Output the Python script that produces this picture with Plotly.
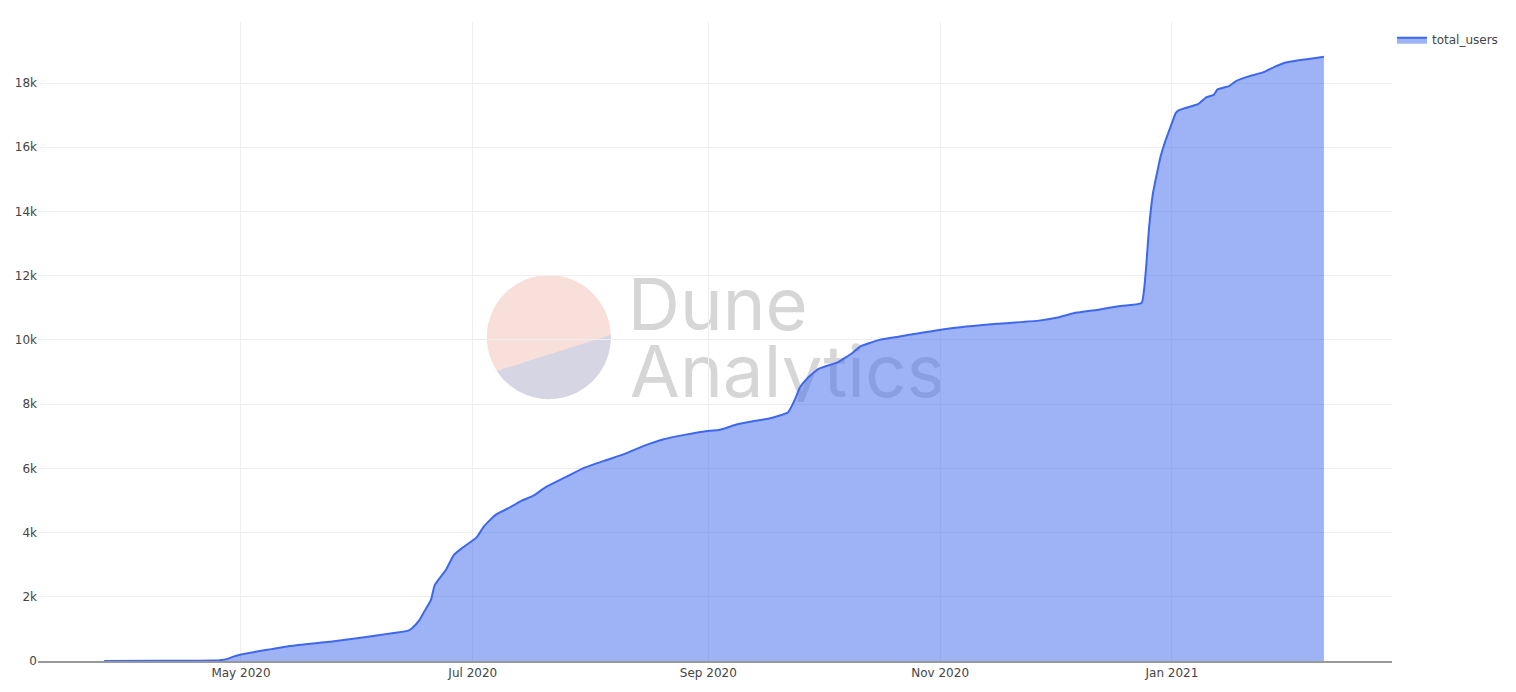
import base64
import pandas as pd
import plotly.graph_objects as go

# cumulative users
dates = [
    "2020-03-26", "2020-04-10", "2020-04-24", "2020-04-27", "2020-04-29",
    "2020-05-01", "2020-05-06", "2020-05-09", "2020-05-14", "2020-05-25",
    "2020-06-03", "2020-06-14", "2020-06-15", "2020-06-17", "2020-06-18",
    "2020-06-20", "2020-06-21", "2020-06-24", "2020-06-26", "2020-06-28",
    "2020-07-02", "2020-07-04", "2020-07-07", "2020-07-11", "2020-07-14",
    "2020-07-17", "2020-07-20", "2020-07-25", "2020-07-30", "2020-08-05",
    "2020-08-10", "2020-08-15", "2020-08-20", "2020-08-26", "2020-08-31",
    "2020-09-04", "2020-09-08", "2020-09-12", "2020-09-17", "2020-09-22",
    "2020-09-24", "2020-09-25", "2020-09-27", "2020-09-30", "2020-10-05",
    "2020-10-09", "2020-10-11", "2020-10-16", "2020-10-21", "2020-10-26",
    "2020-11-03", "2020-11-16", "2020-11-27", "2020-12-02", "2020-12-07",
    "2020-12-13", "2020-12-18", "2020-12-24", "2020-12-25", "2020-12-26",
    "2020-12-27", "2020-12-29", "2020-12-30", "2021-01-01", "2021-01-02",
    "2021-01-03", "2021-01-08", "2021-01-10", "2021-01-12", "2021-01-13",
    "2021-01-16", "2021-01-18", "2021-01-21", "2021-01-25", "2021-01-28",
    "2021-01-31", "2021-02-10",
]
total_users = [
    2, 10, 15, 50, 135,
    200, 310, 370, 470, 610,
    750, 945, 1020, 1280, 1490,
    1900, 2370, 2850, 3300, 3500,
    3850, 4200, 4550, 4800, 5000,
    5150, 5400, 5700, 6000, 6250,
    6450, 6700, 6900, 7050, 7150,
    7200, 7350, 7450, 7550, 7750,
    8200, 8500, 8800, 9100, 9300,
    9600, 9800, 10000, 10100, 10200,
    10350, 10500, 10600, 10700, 10850,
    10950, 11050, 11150, 11970, 13520,
    14560, 15700, 16100, 16750, 17060,
    17160, 17350, 17550, 17630, 17800,
    17900, 18070, 18200, 18330, 18500,
    18640, 18820,
]

df = pd.DataFrame({"date": pd.to_datetime(dates), "total_users": total_users})

# watermark drawn as an svg image behind the plot
svg = """<svg xmlns='http://www.w3.org/2000/svg' width='465' height='130' viewBox='0 0 465 130' preserveAspectRatio='none'>
<circle cx='64' cy='65' r='62' fill='#f8dfd9'/>
<path d='M12,99 A62,62 0 0 0 126,63 Z' fill='#d5d5e3'/>
<text x='143' y='58' font-family='Inter, Noto Sans, sans-serif' font-size='72' fill='#d6d6d6' textLength='180' lengthAdjust='spacingAndGlyphs'>Dune</text>
<text x='145' y='125' font-family='Inter, Noto Sans, sans-serif' font-size='72' fill='#d6d6d6' textLength='315' lengthAdjust='spacingAndGlyphs'>Analytics</text>
</svg>"""
watermark = "data:image/svg+xml;base64," + base64.b64encode(svg.encode()).decode()

fig = go.Figure()
fig.add_trace(go.Scatter(
    x=df["date"], y=df["total_users"], name="total_users",
    mode="lines", fill="tozeroy",
    line=dict(color="#3d68ee", width=2, shape="spline", smoothing=0.4),
    fillcolor="rgba(61,104,238,0.5)",
    showlegend=True))

fig.add_layout_image(
    source=watermark, xref="paper", yref="paper",
    x=0.330, y=0.6088, sizex=0.3434, sizey=0.2034,
    xanchor="left", yanchor="top", sizing="stretch", layer="below")

# page body has an 8px margin, so the figure is sized to fit inside it
fig.update_layout(
    width=1500, height=676,
    margin=dict(l=30, r=116, t=14, b=23, autoexpand=False),
    plot_bgcolor="white", paper_bgcolor="white",
    font=dict(family="DejaVu Sans, Verdana, sans-serif", size=12, color="#444"),
    legend=dict(x=1.0, y=0.995, xanchor="left", yanchor="top",
                font=dict(size=12)),
)
fig.update_xaxes(
    range=["2020-03-08 14:00", "2021-02-27 22:00"],
    tick0="2020-01-01", dtick="M2", tickformat="%b %Y",
    showgrid=True, gridcolor="#eeeeee",
    showline=True, linecolor="#999999", linewidth=1.5,
    zeroline=False, ticks="")
fig.update_yaxes(
    range=[0, 19900], dtick=2000, tickformat="~s",
    showgrid=True, gridcolor="#eeeeee",
    zeroline=False, showline=False, ticks="")

fig.write_html("out.html")
